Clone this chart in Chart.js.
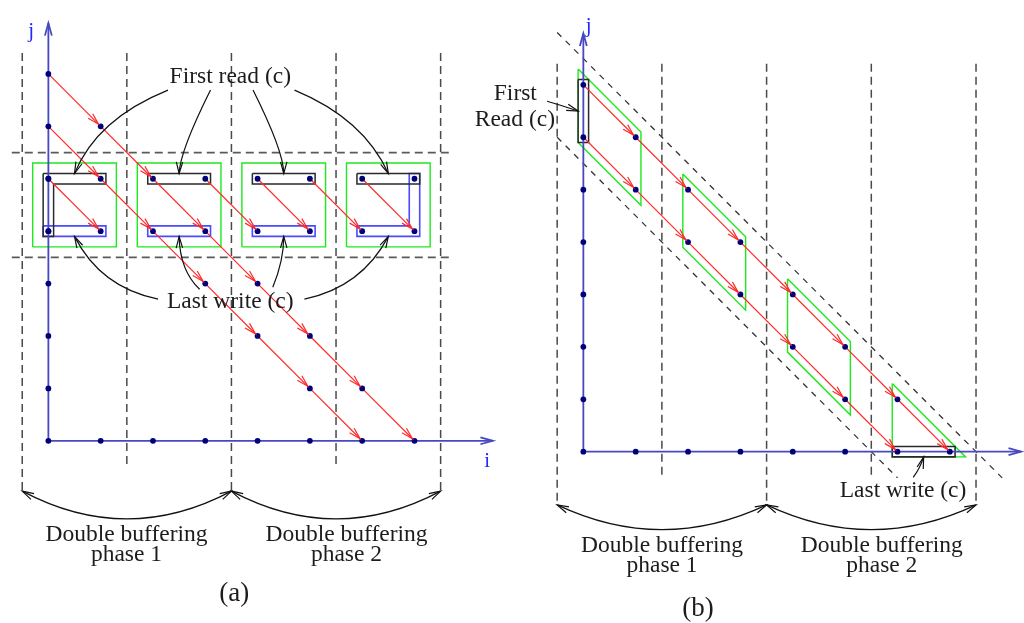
<!DOCTYPE html>
<html><head><meta charset="utf-8">
<script src="https://cdn.jsdelivr.net/npm/chart.js@4.4.1/dist/chart.umd.min.js"></script>
<style>
html,body{margin:0;padding:0;background:#fff;width:1024px;height:623px;overflow:hidden;}
#wrap{position:relative;width:1024px;height:623px;}
canvas{position:absolute;top:0;}
#ca{left:0;}
#cb{left:460px;}
</style></head><body>
<div id="wrap"><canvas id="ca" width="512" height="623"></canvas><canvas id="cb" width="564" height="623"></canvas></div>
<script>
// ================= DATA =================
// ---- panel (a) ----
const A_AXIS_J = [0,1,2,3,4,5,6,7];          // points on j axis (i = 0)
const A_AXIS_I = [1,2,3,4,5,6,7];            // points on i axis (j = 0)
const A_ROW_J  = [4,5];                      // rows of points inside the tiles
const A_ROW_I  = [0,1,2,3,4,5,6,7];
const A_EXTRA  = [[1,6],[3,3],[4,3],[4,2],[5,2],[5,1],[6,1]];
const A_CHAINS = [
  [[0,7],[1,6],[2,5],[3,4],[4,3],[5,2],[6,1],[7,0]],
  [[0,6],[1,5],[2,4],[3,3],[4,2],[5,1],[6,0]],
  [[0,5],[1,4]],
  [[3,5],[4,4]],
  [[4,5],[5,4]],
  [[5,5],[6,4]],
  [[6,5],[7,4]]
];
const A_TILES = [[-0.3,3.7,1.3,5.3],[1.7,3.7,3.3,5.3],[3.7,3.7,5.3,5.3],[5.7,3.7,7.3,5.3]];
const A_READ = [
  [[-0.1,5.1],[1.1,5.1],[1.1,4.9],[0.1,4.9],[0.1,3.9],[-0.1,3.9],[-0.1,5.1]],
  [[1.9,5.1],[3.1,5.1],[3.1,4.9],[1.9,4.9],[1.9,5.1]],
  [[3.9,5.1],[5.1,5.1],[5.1,4.9],[3.9,4.9],[3.9,5.1]],
  [[5.9,5.1],[7.1,5.1],[7.1,4.9],[5.9,4.9],[5.9,5.1]]
];
const A_WRITE = [
  [[-0.1,4.1],[1.1,4.1],[1.1,3.9],[-0.1,3.9],[-0.1,4.1]],
  [[1.9,4.1],[3.1,4.1],[3.1,3.9],[1.9,3.9],[1.9,4.1]],
  [[3.9,4.1],[5.1,4.1],[5.1,3.9],[3.9,3.9],[3.9,4.1]],
  [[5.9,4.1],[6.9,4.1],[6.9,5.1],[7.1,5.1],[7.1,3.9],[5.9,3.9],[5.9,4.1]]
];
const A_VDASH = [[-0.5,7.4,-0.96],[1.5,7.4,-0.5],[3.5,7.4,-0.96],[5.5,7.4,-0.5],[7.5,7.4,-0.96]];
const A_HDASH = [[5.5,-0.7,7.7],[3.5,-0.7,7.7]];
const A_AXIS_END = [8.5, 7.97];

// ---- panel (b) ----
const B_AXIS_J = [0,1,2,3,4,5,6,7];
const B_AXIS_I = [1,2,3,4,5,6,7];
const B_EXTRA  = [[1,6],[1,5],[2,5],[2,4],[3,4],[3,3],[4,3],[4,2],[5,2],[5,1],[6,1]];
const B_CHAINS = [
  [[0,7],[1,6],[2,5],[3,4],[4,3],[5,2],[6,1],[7,0]],
  [[0,6],[1,5],[2,4],[3,3],[4,2],[5,1],[6,0]]
];
const B_TILES = [
  [[-0.1,7.3],[1.1,6.1],[1.1,4.7],[-0.1,5.9],[-0.1,7.3]],
  [[1.9,5.3],[3.1,4.1],[3.1,2.7],[1.9,3.9],[1.9,5.3]],
  [[3.9,3.3],[5.1,2.1],[5.1,0.7],[3.9,1.9],[3.9,3.3]],
  [[5.9,1.3],[7.3,-0.1],[5.9,-0.1],[5.9,1.3]]
];
const B_READ  = [[[-0.1,7.1],[0.1,7.1],[0.1,5.9],[-0.1,5.9],[-0.1,7.1]]];
const B_WRITE = [[[5.9,0.1],[7.1,0.1],[7.1,-0.1],[5.9,-0.1],[5.9,0.1]]];
const B_VDASH = [[-0.5,7.4,-0.95],[1.5,7.4,-0.5],[3.5,7.4,-0.95],[5.5,7.4,-0.5],[7.5,7.4,-0.95]];
const B_DDASH = [[[-0.5,8],[8,-0.5]],[[-0.5,6],[6,-0.5]]];
const B_AXIS_END = [8.36, 7.98];

// ---- texts ----
const T_FIRST_READ = 'First read (c)';
const T_LAST_WRITE = 'Last write (c)';
const T_DB = 'Double buffering';
const T_PH1 = 'phase 1', T_PH2 = 'phase 2';
const T_FIRST = 'First', T_READ = 'Read (c)';

// ================= HELPERS =================
const U = 52.9;
const FONT = '"Liberation Serif", "Times New Roman", serif';
function P(a){ return a.map(p=>({x:p[0],y:p[1]})); }
function lineDS(arr, color, width, dash, order, extra){
  return Object.assign({data:P(arr), showLine:true, borderColor:color, borderWidth:width,
    borderDash:dash||[], pointRadius:0, pointHoverRadius:0, fill:false, tension:0, order:order,
    borderCapStyle:'butt', borderJoinStyle:'miter'}, extra||{});
}
function head(ctx, tx, ty, dx, dy, len, half){
  const a = Math.atan2(dy, dx);
  ctx.beginPath();
  ctx.moveTo(tx - len*Math.cos(a-half), ty - len*Math.sin(a-half));
  ctx.lineTo(tx, ty);
  ctx.lineTo(tx - len*Math.cos(a+half), ty - len*Math.sin(a+half));
  ctx.stroke();
}
function makePlugin(spec){
  return {
    id:'annot',
    afterDatasetsDraw(chart){
      const ctx = chart.ctx, xs = chart.scales.x, ys = chart.scales.y;
      const px = v=>xs.getPixelForValue(v), py = v=>ys.getPixelForValue(v);
      chart.data.datasets.forEach((ds, di)=>{
        if(!ds.arrows) return;
        const el = chart.getDatasetMeta(di).data;
        ctx.save(); ctx.strokeStyle = ds.borderColor; ctx.lineWidth = ds.borderWidth; ctx.lineJoin='miter';
        for(let k=1;k<el.length;k++){
          if(ds.arrows==='end' && k!==el.length-1) continue;
          const p = el[k], q = el[k-1];
          const dx = p.x-q.x, dy = p.y-q.y, L = Math.hypot(dx,dy);
          const back = ds.arrows==='end' ? 0 : 3;
          head(ctx, p.x-dx/L*back, p.y-dy/L*back, dx, dy, ds.arrows==='end'?13:12, 0.27);
        }
        ctx.restore();
      });
      ctx.save(); ctx.strokeStyle='#111'; ctx.lineWidth=1.2;
      spec.curves.forEach(c=>{
        const s=[px(c.s[0]),py(c.s[1])], m=[px(c.c[0]),py(c.c[1])], e=[px(c.e[0]),py(c.e[1])];
        ctx.beginPath(); ctx.moveTo(s[0],s[1]); ctx.quadraticCurveTo(m[0],m[1],e[0],e[1]); ctx.stroke();
        head(ctx, e[0], e[1], e[0]-m[0], e[1]-m[1], 12, 0.27);
        if(c.both) head(ctx, s[0], s[1], s[0]-m[0], s[1]-m[1], 12, 0.27);
      });
      ctx.restore();
      ctx.save(); ctx.textAlign='center'; ctx.textBaseline='middle';
      spec.texts.forEach(t=>{
        ctx.font = (t.size||23.5)+'px '+FONT;
        ctx.fillStyle = t.color||'#1c1c1c';
        ctx.fillText(t.t, px(t.x), py(t.y));
      });
      ctx.restore();
    }
  };
}
function scalesFor(ox, oy, w, h){
  return {
    x:{type:'linear', min:-ox/U, max:(w-ox)/U, display:false},
    y:{type:'linear', min:-(h-oy)/U, max:oy/U, display:false}
  };
}
function buildPanel(cfg){
  const ds = [];
  cfg.vdash.forEach(v=>ds.push(lineDS([[v[0],v[1]],[v[0],v[2]]], '#4a4a4a', 1.5, [8,5], 6)));
  (cfg.hdash||[]).forEach(h=>ds.push(lineDS([[h[1],h[0]],[h[2],h[0]]], '#5a5a5a', 1.8, [8,5], 6)));
  (cfg.ddash||[]).forEach(d=>ds.push(lineDS(d, '#333', 1.3, [6,6], 6)));
  cfg.tiles.forEach(t=>ds.push(lineDS(t, '#1ee81e', 1.4, [], 5)));
  cfg.read.forEach(t=>ds.push(lineDS(t, '#2a2a2a', 1.5, [], 4)));
  cfg.write.forEach(t=>ds.push(lineDS(t, cfg.writeColor, 1.6, [], 4)));
  ds.push(lineDS([[0,0],[cfg.axisEnd[0],0]], '#4848c0', 1.8, [], 3, {arrows:'end'}));
  ds.push(lineDS([[0,0],[0,cfg.axisEnd[1]]], '#4848c0', 1.8, [], 3, {arrows:'end'}));
  cfg.chains.forEach(c=>ds.push(lineDS(c, '#ff2a2a', 1.2, [], 2, {arrows:'each'})));
  ds.push({data:P(cfg.points), showLine:false, pointRadius:2.9, pointHoverRadius:2.9,
    pointBackgroundColor:'#00007a', pointBorderWidth:0, order:1});
  return new Chart(document.getElementById(cfg.id), {
    type:'scatter',
    data:{datasets:ds},
    options:{responsive:false, animation:false, devicePixelRatio:1, events:[],
      layout:{padding:0}, scales:scalesFor(cfg.ox, cfg.oy, cfg.w, cfg.h),
      plugins:{legend:{display:false}, tooltip:{enabled:false}}},
    plugins:[makePlugin(cfg.spec)]
  });
}

const aPoints = [].concat(
  A_AXIS_J.map(j=>[0,j]), A_AXIS_I.map(i=>[i,0]),
  ...A_ROW_J.map(j=>A_ROW_I.map(i=>[i,j])), A_EXTRA);
const bPoints = [].concat(B_AXIS_J.map(j=>[0,j]), B_AXIS_I.map(i=>[i,0]), B_EXTRA);

buildPanel({
  id:'ca', ox:46, oy:442, w:512, h:623, writeColor:'#4a4aff',
  vdash:A_VDASH, hdash:A_HDASH, tiles:A_TILES.map(r=>[[r[0],r[1]],[r[2],r[1]],[r[2],r[3]],[r[0],r[3]],[r[0],r[1]]]),
  read:A_READ, write:A_WRITE, axisEnd:A_AXIS_END, chains:A_CHAINS, points:aPoints,
  spec:{
    curves:[
      {s:[2.287,6.692], c:[0.926,6.144], e:[0.5,5.1]},
      {s:[3.1,6.692],   c:[2.514,5.52],  e:[2.5,5.1]},
      {s:[3.913,6.692], c:[4.5,5.52],    e:[4.5,5.1]},
      {s:[4.707,6.692], c:[6.03,6.144],  e:[6.5,5.1]},
      {s:[2.098,2.703], c:[0.996,2.924], e:[0.5,3.9]},
      {s:[2.892,2.892], c:[2.514,3.25],  e:[2.5,3.9]},
      {s:[4.291,2.93],  c:[4.5,3.44],    e:[4.5,3.9]},
      {s:[4.896,2.703], c:[5.99,2.93],   e:[6.5,3.9]},
      {s:[-0.5,-0.96], c:[1.5,-2.02], e:[3.5,-0.96], both:true},
      {s:[3.5,-0.96],  c:[5.5,-2.02], e:[7.5,-0.96], both:true}
    ],
    texts:[
      {t:T_FIRST_READ, x:3.478, y:6.938},
      {t:T_LAST_WRITE, x:3.478, y:2.647},
      {t:T_DB, x:1.493, y:-1.796}, {t:T_PH1, x:1.493, y:-2.174},
      {t:T_DB, x:5.70, y:-1.796},  {t:T_PH2, x:5.70, y:-2.174},
      {t:'(a)', x:3.554, y:-2.93, size:27},
      {t:'j', x:-0.33, y:7.81, size:21, color:'#2525ff'},
      {t:'i', x:8.39, y:-0.40, size:21, color:'#2525ff'}
    ]
  }
});

buildPanel({
  id:'cb', ox:121.7, oy:453, w:564, h:623, writeColor:'#2a2a2a',
  vdash:B_VDASH, ddash:B_DDASH, tiles:B_TILES,
  read:B_READ, write:B_WRITE, axisEnd:B_AXIS_END, chains:B_CHAINS, points:bPoints,
  spec:{
    curves:[
      {s:[-0.692,6.687], c:[-0.39,6.6], e:[-0.1,6.5]},
      {s:[6.30,-0.49], c:[6.43,-0.32], e:[6.5,-0.1]},
      {s:[-0.5,-1.015], c:[1.5,-1.96], e:[3.5,-1.015], both:true},
      {s:[3.5,-1.015],  c:[5.5,-1.96], e:[7.5,-1.015], both:true}
    ],
    texts:[
      {t:T_FIRST, x:-1.299, y:6.824}, {t:T_READ, x:-1.308, y:6.333},
      {t:T_LAST_WRITE, x:6.106, y:-0.756},
      {t:T_DB, x:1.503, y:-1.80}, {t:T_PH1, x:1.503, y:-2.18},
      {t:T_DB, x:5.70, y:-1.80},  {t:T_PH2, x:5.70, y:-2.18},
      {t:'(b)', x:2.19, y:-3.0, size:27},
      {t:'j', x:0.1, y:8.12, size:21, color:'#2525ff'}
    ]
  }
});
</script>
</body></html>
